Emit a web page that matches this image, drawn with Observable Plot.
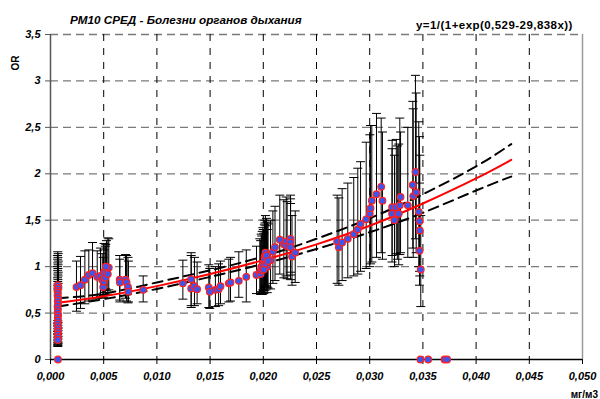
<!DOCTYPE html>
<html>
<head>
<meta charset="utf-8">
<script src="https://cdn.jsdelivr.net/npm/d3@7"></script>
<script src="https://cdn.jsdelivr.net/npm/@observablehq/plot@0.6"></script>
<style>
  html, body { margin: 0; padding: 0; background: #fff; }
  svg { display: block; }
</style>
</head>
<body>
<div id="chart"></div>
<script>
// ---- text ----
const titleText = "PM10 СРЕД - Болезни органов дыхания";
const formulaText = "y=1/(1+exp(0,529-29,838x))";
const yAxisTitle = "OR";
const xAxisUnit = "мг/м3";

// ---- ticks ----
const xTickValues = [0, 0.005, 0.010, 0.015, 0.020, 0.025, 0.030, 0.035, 0.040, 0.045, 0.050];
const xTickLabels = ["0,000", "0,005", "0,010", "0,015", "0,020", "0,025", "0,030", "0,035", "0,040", "0,045", "0,050"];
const yTickValues = [0, 0.5, 1, 1.5, 2, 2.5, 3, 3.5];
const yTickLabels = ["0", "0,5", "1", "1,5", "2", "2,5", "3", "3,5"];

// ---- observed OR with confidence intervals ----
const obsX = [
  0.00068, 0.00072, 0.00065, 0.00070, 0.00066, 0.00073, 0.00068, 0.00071, 0.00066, 0.00070, 0.00067,
  0.00072, 0.00068, 0.00071, 0.00066, 0.00070, 0.00068, 0.00072, 0.00067, 0.00070, 0.00068, 0.00070,
  0.00244, 0.00282, 0.00323, 0.00360, 0.00395, 0.00439,
  0.00470, 0.00486, 0.00495, 0.00500, 0.00503, 0.00515, 0.00526, 0.00539, 0.00548, 0.00520,
  0.00650, 0.00652, 0.00705, 0.00715, 0.00728, 0.00732,
  0.00871, 0.01244, 0.01322, 0.01322, 0.01353, 0.01378, 0.01488, 0.01497, 0.01550, 0.01580,
  0.01598, 0.01676, 0.01692, 0.01770, 0.01840, 0.01936,
  0.01967, 0.01980, 0.01996, 0.02011, 0.02020, 0.02037, 0.02010, 0.02037, 0.02068, 0.02090,
  0.02110, 0.02155, 0.02193, 0.02215, 0.02224, 0.02256, 0.02256, 0.02256, 0.02270, 0.02300,
  0.01975, 0.01985, 0.01990, 0.02000, 0.02005, 0.02015, 0.02025, 0.02030, 0.02045,
  0.02694, 0.02710, 0.02741, 0.02794, 0.02850, 0.02888, 0.02914, 0.02967, 0.03001, 0.03008,
  0.03020, 0.03064, 0.03108, 0.03120, 0.03211, 0.03210, 0.03233, 0.03250, 0.03260, 0.03273,
  0.03283, 0.03290, 0.03358, 0.03405, 0.03409, 0.03430, 0.03437, 0.03461, 0.03468, 0.03471,
  0.03468, 0.03480,
  0.03477, 0.03550, 0.03703, 0.03728
];
const obsOR = [
  0.80, 0.77, 0.74, 0.72, 0.69, 0.66, 0.63, 0.60, 0.57, 0.54, 0.51,
  0.48, 0.45, 0.42, 0.39, 0.36, 0.33, 0.30, 0.27, 0.24, 0.21, 0,
  0.78, 0.80, 0.86, 0.91, 0.93, 0.89,
  0.90, 0.86, 0.78, 0.84, 0.94, 0.88, 0.955, 0.92, 0.99, 1.00,
  0.86, 0.83, 0.86, 0.83, 0.78, 0.73,
  0.75, 0.82, 0.865, 0.765, 0.79, 0.757, 0.776, 0.73, 0.75, 0.757,
  0.79, 0.82, 0.83, 0.847, 0.89, 0.91,
  0.944, 0.998, 1.03, 1.105, 1.15, 1.10, 1.05, 1.00, 1.07, 1.16,
  1.21, 1.29, 1.24, 1.27, 1.22, 1.30, 1.26, 1.21, 1.11, 1.15,
  0.92, 0.96, 0.99, 1.01, 0.97, 1.08, 1.03, 1.12, 1.06,
  1.27, 1.21, 1.26, 1.30, 1.35, 1.40, 1.46, 1.51, 1.57, 1.63,
  1.71, 1.78, 1.86, 1.71, 1.64, 1.57, 1.50, 1.64, 1.57, 1.57,
  1.66, 1.75, 1.66, 1.88, 1.76, 2.02, 1.80, 1.59, 1.49, 1.39,
  1.17, 0.97,
  0, 0, 0, 0
];
const ciLow = [
  0.42, 0.40, 0.39, 0.37, 0.36, 0.34, 0.33, 0.31, 0.30, 0.28, 0.27,
  0.25, 0.24, 0.22, 0.21, 0.19, 0.18, 0.17, 0.16, 0.15, 0.14, null,
  0.52, 0.55, 0.60, 0.63, 0.65, 0.66,
  0.68, 0.66, 0.69, 0.67, 0.72, 0.70, 0.74, 0.72, 0.75, 0.76,
  0.64, 0.62, 0.66, 0.63, 0.61, 0.62,
  0.62, 0.65, 0.58, 0.56, 0.58, 0.60, 0.56, 0.55, 0.57, 0.58,
  0.60, 0.62, 0.63, 0.67, 0.62, 0.71,
  0.71, 0.73, 0.75, 0.78, 0.80, 0.78, 0.74, 0.72, 0.76, 0.82,
  0.85, 0.92, 0.88, 0.90, 0.87, 0.94, 0.91, 0.86, 0.80, 0.83,
  0.70, 0.72, 0.70, 0.74, 0.71, 0.77, 0.75, 0.79, 0.77,
  0.82, 0.80, 0.85, 0.88, 0.90, 0.92, 0.95, 0.98, 1.00, 1.03,
  1.05, 1.10, 1.15, 1.08, 1.12, 1.05, 1.00, 1.14, 1.08, 1.02,
  1.13, 1.15, 1.10, 1.20, 1.10, 1.30, 1.15, 1.00, 0.95, 0.90,
  0.80, 0.57,
  null, null, null, null
];
const ciHigh = [
  1.16, 1.14, 1.12, 1.10, 1.08, 1.06, 1.04, 1.02, 1.00, 0.98, 0.96,
  0.94, 0.92, 0.90, 0.88, 0.86, 0.84, 0.82, 0.80, 0.78, 0.76, null,
  1.06, 1.11, 1.17, 1.18, 1.26, 1.17,
  1.20, 1.14, 1.10, 1.18, 1.25, 1.22, 1.28, 1.31, 1.30, 1.24,
  1.12, 1.08, 1.13, 1.12, 1.10, 1.06,
  0.90, 1.07, 1.15, 1.12, 1.10, 1.05, 1.02, 0.98, 1.00, 1.03,
  1.06, 1.08, 1.10, 1.16, 1.18, 1.22,
  1.30, 1.35, 1.42, 1.50, 1.55, 1.48, 1.45, 1.40, 1.50, 1.60,
  1.65, 1.77, 1.72, 1.75, 1.70, 1.77, 1.73, 1.68, 1.55, 1.60,
  1.28, 1.33, 1.38, 1.40, 1.36, 1.47, 1.44, 1.52, 1.46,
  1.77, 1.74, 1.84, 1.90, 1.96, 2.06, 2.13, 2.34, 2.42, 2.52,
  2.52, 2.65, 2.60, 2.45, 2.36, 2.27, 2.20, 2.37, 2.30, 2.32,
  2.60, 2.45, 2.50, 2.78, 2.70, 3.06, 2.87, 2.56, 2.40, 2.20,
  1.90, 1.55,
  null, null, null, null
];

// ---- fitted curve and its confidence band ----
const fitX     = [0.0007, 0.005, 0.010, 0.015, 0.020, 0.025, 0.030, 0.035, 0.040, 0.0433];
const fitOR    = [0.61,   0.68,  0.79,  0.92,  1.07,  1.24,  1.44,  1.68,  1.95,  2.15];
const bandHigh = [0.66,   0.71,  0.83,  0.96,  1.11,  1.30,  1.52,  1.78,  2.08,  2.32];
const bandLow  = [0.57,   0.65,  0.76,  0.89,  1.03,  1.19,  1.37,  1.58,  1.82,  1.97];

// ---- build tables ----
const obs = obsX.map((x, i) => ({x, y: obsOR[i], lo: ciLow[i], hi: ciHigh[i]}));
const bars = obs.filter(d => d.lo != null);
const fit = fitX.map((x, i) => ({x, y: fitOR[i], hi: bandHigh[i], lo: bandLow[i]}));

const capSymbol = {
  draw(context) {
    context.moveTo(-4.5, 0);
    context.lineTo(4.5, 0);
  }
};

const FONT = "'Liberation Sans', Arial, sans-serif";

const chart = Plot.plot({
  width: 600,
  height: 399,
  marginLeft: 50,
  marginRight: 18,
  marginTop: 34,
  marginBottom: 40,
  style: {fontFamily: FONT, fontSize: "11px", fontWeight: "bold", fontStyle: "italic", background: "#fff", color: "#000", overflow: "visible"},
  x: {domain: [0, 0.05], label: null},
  y: {domain: [0, 3.5], label: null},
  marks: [
    // grid
    Plot.ruleY(yTickValues.slice(1), {stroke: "#7a7a7a", strokeWidth: 1.3, strokeDasharray: "8,5"}),
    Plot.ruleX(xTickValues.slice(1, -1), {stroke: "#000", strokeWidth: 1, strokeDasharray: "7,7"}),
    Plot.ruleX([0.05], {stroke: "#9a9a9a", strokeWidth: 1.5}),
    // error bars
    Plot.link(bars, {x1: "x", x2: "x", y1: "lo", y2: "hi", stroke: "#000", strokeWidth: 1}),
    Plot.dot(bars, {x: "x", y: "lo", symbol: capSymbol, fill: "none", stroke: "#000", strokeWidth: 1}),
    Plot.dot(bars, {x: "x", y: "hi", symbol: capSymbol, fill: "none", stroke: "#000", strokeWidth: 1}),
    // confidence band
    Plot.line(fit, {x: "x", y: "hi", stroke: "#000", strokeWidth: 2, strokeDasharray: "10,6", curve: "natural"}),
    Plot.line(fit, {x: "x", y: "lo", stroke: "#000", strokeWidth: 2, strokeDasharray: "10,6", curve: "natural"}),
    // fitted curve
    Plot.line(fit, {x: "x", y: "y", stroke: "#ff0000", strokeWidth: 2, curve: "natural"}),
    // axes
    Plot.ruleX([0], {stroke: "#555", strokeWidth: 1.5}),
    Plot.ruleY([0], {stroke: "#000", strokeWidth: 1.5}),
    Plot.axisY({ticks: yTickValues, tickFormat: (d, i) => yTickLabels[i], tickSize: 5, tickPadding: 5, stroke: "#555"}),
    Plot.axisX({ticks: xTickValues, tickFormat: (d, i) => xTickLabels[i], tickSize: 5, tickPadding: 8}),
    // observations
    Plot.dot(obs, {x: "x", y: "y", r: 3.3, fill: "#3a56f0", stroke: "#ff2020", strokeWidth: 1.2})
  ]
});

const svg = d3.select(chart);
svg.append("text")
  .attr("x", 70).attr("y", 24)
  .attr("text-anchor", "start")
  .attr("font-family", FONT).attr("font-size", 11.7).attr("font-weight", "bold").attr("font-style", "italic")
  .text(titleText);
svg.append("text")
  .attr("x", 416).attr("y", 29)
  .attr("text-anchor", "start")
  .attr("letter-spacing", "0.45px")
  .attr("font-family", FONT).attr("font-size", 11.5).attr("font-weight", "bold").attr("font-style", "normal")
  .text(formulaText);
svg.append("text")
  .attr("transform", "translate(19,63) rotate(-90)")
  .attr("text-anchor", "middle")
  .attr("font-family", FONT).attr("font-size", 10).attr("font-weight", "bold").attr("font-style", "normal")
  .text(yAxisTitle);
svg.append("text")
  .attr("x", 598).attr("y", 398)
  .attr("text-anchor", "end")
  .attr("font-family", FONT).attr("font-size", 10).attr("font-weight", "bold").attr("font-style", "normal")
  .text(xAxisUnit);

document.getElementById("chart").appendChild(chart);
</script>
</body>
</html>
